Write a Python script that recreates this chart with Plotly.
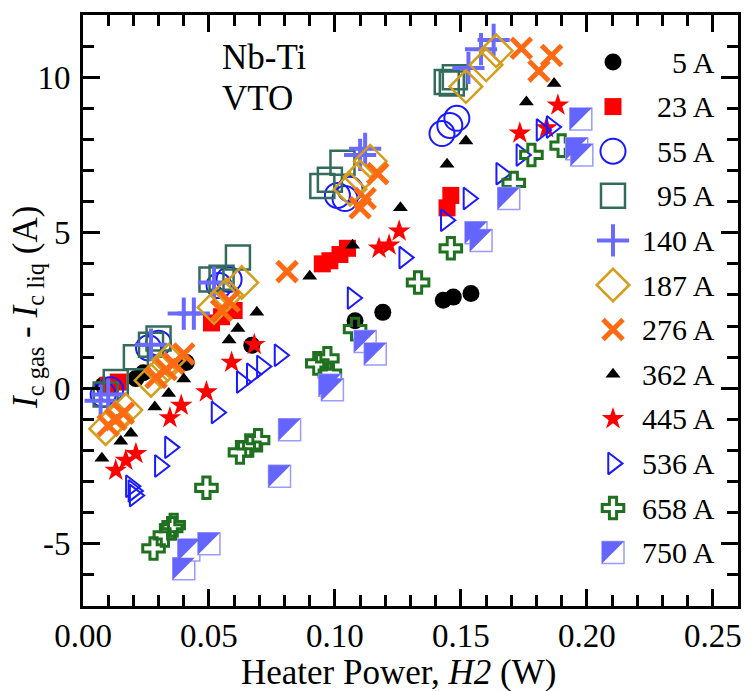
import plotly.graph_objects as go

# ---------------- data ----------------
labels = ["5 A", "23 A", "55 A", "95 A", "140 A", "187 A", "276 A",
          "362 A", "445 A", "536 A", "658 A", "750 A"]

x_5 = [0.008, 0.021, 0.024, 0.041, 0.067, 0.108, 0.119, 0.143, 0.147, 0.154]
y_5 = [0.10, 0.31, 0.50, 0.83, 1.38, 2.17, 2.44, 2.83, 2.93, 3.05]

x_23 = [0.010, 0.014, 0.051, 0.055, 0.060, 0.095, 0.098, 0.102, 0.105, 0.1445, 0.146]
y_23 = [0.10, 0.20, 2.10, 2.30, 2.50, 4.00, 4.10, 4.30, 4.50, 5.80, 6.20]

x_55 = [0.008, 0.011, 0.026, 0.030, 0.054, 0.058, 0.101, 0.104, 0.106, 0.1425, 0.1456, 0.1484]
y_55 = [-0.20, -0.05, 1.30, 1.45, 3.30, 3.50, 6.20, 6.10, 6.40, 8.19, 8.45, 8.68]

x_95 = [0.009, 0.013, 0.021, 0.027, 0.030, 0.051, 0.055, 0.0615, 0.095, 0.098, 0.103, 0.1444, 0.1464, 0.1476]
y_95 = [-0.20, 0.20, 1.00, 1.40, 1.60, 3.50, 3.55, 4.20, 6.50, 6.70, 7.25, 9.85, 9.80, 10.00]

x_140 = [0.007, 0.010, 0.027, 0.040, 0.044, 0.052, 0.110, 0.112, 0.153, 0.158, 0.163]
y_140 = [-0.40, -0.20, 1.40, 2.40, 2.40, 3.40, 7.50, 7.70, 10.30, 10.90, 11.20]

x_187 = [0.009, 0.013, 0.017, 0.027, 0.031, 0.034, 0.052, 0.057, 0.063,
         0.106, 0.110, 0.114, 0.152, 0.160, 0.164]
y_187 = [-1.30, -0.95, -0.70, 0.25, 0.55, 0.90, 2.60, 3.00, 3.40,
         6.40, 6.80, 7.30, 9.70, 10.40, 10.85]

x_276 = [0.010, 0.013, 0.016, 0.029, 0.033, 0.036, 0.040, 0.055, 0.058, 0.081,
         0.110, 0.112, 0.117, 0.174, 0.181, 0.186]
y_276 = [-1.20, -1.00, -0.80, 0.35, 0.60, 0.80, 1.10, 2.50, 2.80, 3.75,
         5.80, 6.10, 6.90, 10.93, 10.20, 10.70]

x_362 = [0.0075, 0.015, 0.019, 0.0285, 0.034, 0.040, 0.058, 0.0615, 0.069,
         0.090, 0.107, 0.126, 0.1445, 0.152, 0.176, 0.187]
y_362 = [-2.25, -1.70, -1.45, -0.60, -0.17, 0.30, 1.55, 1.92, 2.44,
         3.60, 4.60, 5.80, 7.20, 7.95, 9.20, 9.80]

x_445 = [0.013, 0.017, 0.021, 0.0345, 0.039, 0.049, 0.059, 0.068,
         0.1175, 0.1215, 0.1255, 0.1734, 0.184, 0.1885]
y_445 = [-2.64, -2.32, -2.10, -0.95, -0.55, -0.12, 0.83, 1.40,
         4.50, 4.60, 5.05, 8.20, 8.37, 9.10]

x_536 = [0.019, 0.020, 0.0205, 0.0305, 0.0345, 0.053, 0.063, 0.067, 0.071, 0.078,
         0.107, 0.1275, 0.144, 0.153, 0.166, 0.174, 0.182, 0.186]
y_536 = [-3.15, -3.30, -3.45, -2.50, -1.90, -0.78, 0.20, 0.45, 0.70, 1.06,
         2.90, 4.20, 5.40, 6.10, 6.90, 7.50, 8.30, 8.40]

x_658 = [0.028, 0.0325, 0.035, 0.036, 0.049, 0.0623, 0.066, 0.0695, 0.093, 0.097,
         0.098, 0.108, 0.133, 0.146, 0.171, 0.178, 0.190]
y_658 = [-5.15, -4.73, -4.50, -4.40, -3.20, -2.06, -1.84, -1.67, 0.80, 0.96,
         0.47, 1.90, 3.40, 4.50, 6.60, 7.50, 7.80]

x_750 = [0.040, 0.042, 0.050, 0.078, 0.082, 0.098, 0.099, 0.112, 0.116,
         0.156, 0.158, 0.169, 0.196, 0.198, 0.1976]
y_750 = [-5.80, -5.20, -5.00, -2.83, -1.33, 0.10, -0.05, 1.50, 1.10,
         5.00, 4.75, 6.10, 7.70, 7.50, 8.66]

x_ticks = [0.00, 0.05, 0.10, 0.15, 0.20, 0.25]
y_ticks = [-5, 0, 5, 10]
x_range = [0.0, 0.26]
y_range = [-7, 12]

# ---------------- styling ----------------
W, H = 753, 691
ML, MR, MT, MB = 83, 15, 15, 85
PW, PH = W - ML - MR, H - MT - MB
FONT = "Liberation Serif"

BLUE = "#1a1aff"
LBLUE = "#6a6aff"
styles = [
    dict(symbol="circle", size=17, color="black", line=dict(width=0)),
    dict(symbol="square", size=17, color="#ff0000", line=dict(width=0)),
    dict(symbol="circle-open", size=25, color=BLUE, line=dict(width=2, color=BLUE)),
    dict(symbol="square-open", size=24, color="#336b5c", line=dict(width=2.5, color="#336b5c")),
    dict(symbol="cross-thin-open", size=23, color=LBLUE, line=dict(width=4, color=LBLUE)),
    dict(symbol="diamond-open", size=25, color="#d49e1c", line=dict(width=2.5, color="#d49e1c")),
    dict(symbol="x-thin-open", size=20, color="#ff6a13", line=dict(width=5, color="#ff6a13")),
    dict(symbol="triangle-up", size=13, color="black", line=dict(width=0)),
    dict(symbol="star", size=17, color="#ff0000", line=dict(width=0)),
    dict(symbol="triangle-right-open", size=19, color=BLUE, line=dict(width=2, color=BLUE)),
    dict(symbol="cross-open", size=18, color="#1f701f", line=dict(width=3, color="#1f701f")),
    None,  # 750 A: composite half-filled square
]
SQ750 = 22
TRI750 = SQ750 / 0.9          # triangle-nw legs = 1.8*r  -> match square side
SHIFT750 = 0.6 * TRI750 / 2 - SQ750 / 2   # px, negative -> left/up

xs = [x_5, x_23, x_55, x_95, x_140, x_187, x_276, x_362, x_445, x_536, x_658, x_750]
ys = [y_5, y_23, y_55, y_95, y_140, y_187, y_276, y_362, y_445, y_536, y_658, y_750]

fig = go.Figure()


def add_750(x, y, xaxis, yaxis, xpp, ypp, name):
    fig.add_trace(go.Scatter(
        x=x, y=y, mode="markers", name=name, showlegend=False,
        xaxis=xaxis, yaxis=yaxis, hoverinfo="skip",
        marker=dict(symbol="square", size=SQ750, color="white",
                    line=dict(width=1.5, color="#9a9aff"))))
    dx = SHIFT750 / xpp
    dy = -SHIFT750 / ypp
    fig.add_trace(go.Scatter(
        x=[v + dx for v in x], y=[v + dy for v in y], mode="markers",
        name=name, showlegend=False, xaxis=xaxis, yaxis=yaxis, hoverinfo="skip",
        marker=dict(symbol="triangle-nw", size=TRI750, color="#6464ff",
                    line=dict(width=0))))


xpp = PW / (x_range[1] - x_range[0])
ypp = PH / (y_range[1] - y_range[0])

for i, name in enumerate(labels):
    if styles[i] is None:
        add_750(xs[i], ys[i], "x", "y", xpp, ypp, name)
    else:
        fig.add_trace(go.Scatter(x=xs[i], y=ys[i], mode="markers", name=name,
                                 showlegend=False, marker=styles[i]))

# ---------------- manual legend on an overlay axis ----------------
leg_x = (613 - ML) / PW
leg_y0 = 62
leg_dy = 44.6
txt_x = (717 - ML) / PW
for i, name in enumerate(labels):
    ly = (MT + PH - (leg_y0 + i * leg_dy)) / PH
    if styles[i] is None:
        add_750([leg_x], [ly], "x2", "y2", PW, PH, name)
    else:
        fig.add_trace(go.Scatter(x=[leg_x], y=[ly], mode="markers", name=name,
                                 showlegend=False, xaxis="x2", yaxis="y2",
                                 marker=styles[i]))
    fig.add_annotation(x=txt_x, y=ly, xref="x2", yref="y2", text=name,
                       showarrow=False, xanchor="right", yanchor="middle",
                       font=dict(family=FONT, size=30, color="black"))

axis_common = dict(
    ticks="inside", tickcolor="black", tickwidth=3, ticklen=17,
    showline=True, linewidth=3, linecolor="black", mirror="ticks",
    showgrid=False, zeroline=False,
    tickfont=dict(family=FONT, size=33, color="black"),
)

fig.update_layout(
    width=W, height=H,
    margin=dict(l=ML, r=MR, t=MT, b=MB),
    paper_bgcolor="white", plot_bgcolor="white",
    showlegend=False,
    xaxis=dict(range=x_range, tickmode="array", tickvals=x_ticks,
               ticktext=[f"{v:.2f}" for v in x_ticks], ticklabelstandoff=-2,
               minor=dict(tickmode="linear", tick0=0, dtick=0.01, ticks="inside",
                          ticklen=11, tickwidth=2.5, tickcolor="black", showgrid=False),
               **axis_common),
    yaxis=dict(range=y_range, tickmode="array", tickvals=y_ticks,
               ticktext=[str(v) for v in y_ticks], ticklabelstandoff=3,
               minor=dict(tickmode="linear", tick0=0, dtick=1, ticks="inside",
                          ticklen=11, tickwidth=2.5, tickcolor="black", showgrid=False),
               **axis_common),
    xaxis2=dict(range=[0, 1], overlaying="x", visible=False, anchor="y2"),
    yaxis2=dict(range=[0, 1], overlaying="y", visible=False, anchor="x2"),
)

# text labels
fig.add_annotation(x=(220 - ML) / PW, y=(MT + PH - 58) / PH, xref="paper", yref="paper",
                   text="Nb-Ti", showarrow=False, xanchor="left", yanchor="middle",
                   font=dict(family=FONT, size=35, color="black"))
fig.add_annotation(x=(220 - ML) / PW, y=(MT + PH - 99) / PH, xref="paper", yref="paper",
                   text="VTO", showarrow=False, xanchor="left", yanchor="middle",
                   font=dict(family=FONT, size=35, color="black"))
fig.add_annotation(x=(398 - ML) / PW, y=(MT + PH - 672) / PH, xref="paper", yref="paper",
                   text="Heater Power, <i>H2</i> (W)", showarrow=False,
                   xanchor="center", yanchor="middle",
                   font=dict(family=FONT, size=35, color="black"))
fig.add_annotation(x=(27 - ML) / PW, y=(MT + PH - 308) / PH, xref="paper", yref="paper",
                   text="<i>I</i><sub>c gas</sub> - <i>I</i><sub>c liq</sub> (A)",
                   showarrow=False, textangle=-90, xanchor="center", yanchor="middle",
                   font=dict(family=FONT, size=35, color="black"))

fig.write_html("out.html", config={"displayModeBar": False},
               post_script="document.body.style.margin='0px';document.body.style.overflow='hidden';")
